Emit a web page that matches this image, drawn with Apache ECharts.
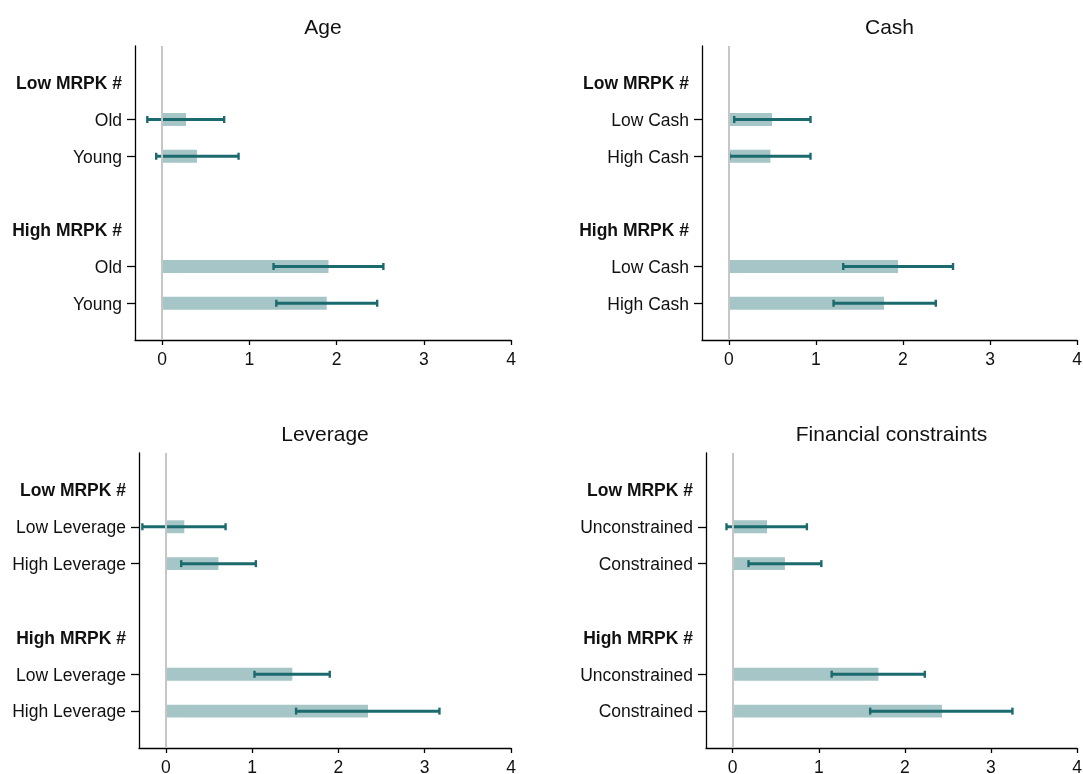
<!DOCTYPE html>
<html><head><meta charset="utf-8">
<script src="https://cdn.jsdelivr.net/npm/echarts@6/dist/echarts.min.js"></script>
<style>html,body{margin:0;padding:0;background:#fff}#c{width:1083px;height:774px}</style>
</head><body><div id="c"></div>
<script>
// ---- data ----
const panelTitles = ['Age', 'Cash', 'Leverage', 'Financial constraints'];
const headerLabels = ['Low MRPK #', 'High MRPK #'];
const ageLabels = ['Old', 'Young'];
const cashLabels = ['Low Cash', 'High Cash'];
const leverageLabels = ['Low Leverage', 'High Leverage'];
const finLabels = ['Unconstrained', 'Constrained'];
const headerRows = [1, 5];
const barRows = [2, 3, 6, 7];
const xTicks = [0, 1, 2, 3, 4];

const ageEst = [0.275, 0.40, 1.908, 1.888];
const ageLo  = [-0.169, -0.067, 1.278, 1.31];
const ageHi  = [0.712, 0.877, 2.537, 2.466];

const cashEst = [0.496, 0.476, 1.944, 1.782];
const cashLo  = [0.06, 0.004, 1.313, 1.202];
const cashHi  = [0.937, 0.937, 2.575, 2.377];

const levEst = [0.215, 0.61, 1.466, 2.343];
const levLo  = [-0.271, 0.179, 1.028, 1.51];
const levHi  = [0.693, 1.044, 1.9, 3.171];

const finEst = [0.399, 0.607, 1.693, 2.431];
const finLo  = [-0.072, 0.184, 1.15, 1.597];
const finHi  = [0.862, 1.03, 2.232, 3.25];

// ---- styling / layout ----
const FONT = "'Liberation Sans', Arial, Helvetica, sans-serif";
const barColor = '#a5c5c6';
const errColor = '#1b6a6e';
const grids = [
  {left: 135, top: 46, width: 376, height: 294, outerBoundsMode: 'none', containLabel: false},
  {left: 702, top: 46, width: 375, height: 294, outerBoundsMode: 'none', containLabel: false},
  {left: 139, top: 453, width: 372, height: 295, outerBoundsMode: 'none', containLabel: false},
  {left: 706, top: 453, width: 371, height: 295, outerBoundsMode: 'none', containLabel: false}
];
const titleTops = [18, 18, 425, 425];

const panels = [
  {labels: ageLabels, est: ageEst, lo: ageLo, hi: ageHi},
  {labels: cashLabels, est: cashEst, lo: cashLo, hi: cashHi},
  {labels: leverageLabels, est: levEst, lo: levLo, hi: levHi},
  {labels: finLabels, est: finEst, lo: finLo, hi: finHi}
];

function renderItem(params, api) {
  const est = api.value(0), lo = api.value(1), hi = api.value(2), row = api.value(3);
  const p0 = api.coord([0, row]);
  const pE = api.coord([est, row]);
  const pL = api.coord([lo, row]);
  const pH = api.coord([hi, row]);
  const h = api.size([0, 0.35])[1];
  const capH = 3.5;
  return {
    type: 'group',
    children: [
      {type: 'rect', shape: {x: Math.min(p0[0], pE[0]), y: p0[1] - h / 2, width: Math.abs(pE[0] - p0[0]), height: h},
       style: {fill: barColor}},
      {type: 'line', shape: {x1: pL[0], y1: pL[1], x2: pH[0], y2: pH[1]},
       style: {stroke: errColor, lineWidth: 3}},
      {type: 'line', shape: {x1: pL[0], y1: pL[1] - capH, x2: pL[0], y2: pL[1] + capH},
       style: {stroke: errColor, lineWidth: 2.4}},
      {type: 'line', shape: {x1: pH[0], y1: pH[1] - capH, x2: pH[0], y2: pH[1] + capH},
       style: {stroke: errColor, lineWidth: 2.4}}
    ]
  };
}

const option = {
  animation: false,
  backgroundColor: '#fff',
  title: panelTitles.map((t, i) => ({
    text: t,
    left: grids[i].left + grids[i].width / 2,
    top: titleTops[i],
    textAlign: 'center',
    padding: 0,
    textStyle: {fontFamily: FONT, fontSize: 21, fontWeight: 'normal', color: '#111'}
  })),
  grid: grids,
  xAxis: grids.map((g, i) => ({
    type: 'value', gridIndex: i, min: -0.31, max: 4,
    axisLine: {show: true, onZero: false, lineStyle: {color: '#000', width: 1.3}},
    axisTick: {show: true, length: 5, customValues: xTicks, lineStyle: {color: '#000', width: 1.3}},
    axisLabel: {customValues: xTicks, margin: 11, fontFamily: FONT, fontSize: 17.5, color: '#111'},
    splitLine: {show: false}
  })),
  yAxis: panels.map((p, i) => {
    const map = {};
    map[headerRows[0]] = '{b|' + headerLabels[0] + '}';
    map[headerRows[1]] = '{b|' + headerLabels[1] + '}';
    map[barRows[0]] = p.labels[0]; map[barRows[1]] = p.labels[1];
    map[barRows[2]] = p.labels[0]; map[barRows[3]] = p.labels[1];
    return {
      type: 'value', gridIndex: i, min: 0, max: 8, inverse: true,
      axisLine: {show: true, onZero: false, lineStyle: {color: '#000', width: 1.3}},
      axisTick: {show: true, length: 8, customValues: barRows, lineStyle: {color: '#000', width: 1.3}},
      axisLabel: {
        customValues: headerRows.concat(barRows).sort((a, b) => a - b),
        margin: 13, fontFamily: FONT, fontSize: 17.5, color: '#111',
        padding: [3, 0, 0, 0],
        formatter: v => map[v] || '',
        rich: {b: {fontFamily: FONT, fontSize: 17.5, fontWeight: 'bold', color: '#111'}}
      },
      splitLine: {show: false}
    };
  }),
  series: panels.map((p, i) => ({
    type: 'custom',
    xAxisIndex: i, yAxisIndex: i,
    renderItem: renderItem,
    encode: {x: [0, 1, 2], y: 3},
    data: barRows.map((r, k) => [p.est[k], p.lo[k], p.hi[k], r]),
    markLine: {
      silent: true, symbol: ['none', 'none'], label: {show: false},
      lineStyle: {color: '#c6c6c6', width: 2, type: 'solid'},
      data: [{xAxis: 0}]
    }
  }))
};

const chart = echarts.init(document.getElementById('c'), null, {renderer: 'canvas'});
chart.setOption(option);
</script>
</body></html>
